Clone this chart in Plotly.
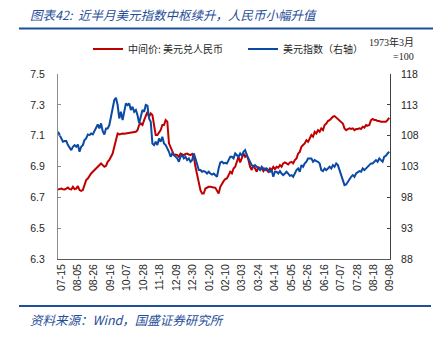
import pandas as pd
import plotly.graph_objects as go

# USD/CNY central parity (left axis)
cny_mid = [
    6.751, 6.753, 6.757, 6.753, 6.751, 6.757, 6.764, 6.753, 6.751, 6.768,
    6.753, 6.757, 6.773, 6.747, 6.742, 6.747, 6.779, 6.812, 6.822, 6.840,
    6.855, 6.866, 6.877, 6.883, 6.898, 6.909, 6.920, 6.909, 6.898, 6.905,
    6.930, 6.942, 6.963, 6.984, 7.028, 7.080, 7.114, 7.108, 7.112, 7.114,
    7.112, 7.114, 7.116, 7.121, 7.119, 7.121, 7.123, 7.125, 7.136, 7.169,
    7.179,
    7.169, 7.201, 7.234, 7.255, 7.223, 7.244, 7.234, 7.169, 7.104, 7.104,
    7.125, 7.136, 7.169, 7.169, 7.201, 7.190, 7.050, 7.020, 6.995, 6.974,
    6.978, 6.974, 6.963, 6.984, 6.978, 6.974, 6.982, 6.984, 6.978, 6.974,
    6.982, 6.963, 6.898, 6.844, 6.779, 6.747, 6.725, 6.725, 6.757, 6.764,
    6.768, 6.768, 6.768, 6.764, 6.762, 6.747, 6.725, 6.768, 6.790, 6.805,
    6.818,
    6.822, 6.844, 6.866, 6.855, 6.887, 6.898, 6.930, 6.963, 6.926, 6.952,
    6.984, 6.963, 6.974, 6.942, 6.898, 6.877, 6.909, 6.887, 6.866, 6.898,
    6.883, 6.887, 6.870, 6.887, 6.877, 6.866, 6.887, 6.877, 6.898, 6.883,
    6.898, 6.892, 6.909, 6.898, 6.920, 6.926, 6.920, 6.913, 6.926, 6.930,
    6.920, 6.942, 6.952, 6.984, 6.995, 7.028, 7.039, 7.050, 7.071, 7.060,
    7.082,
    7.104, 7.093, 7.125, 7.114, 7.136, 7.125, 7.147, 7.136, 7.169, 7.179,
    7.195, 7.201, 7.212, 7.223, 7.227, 7.217, 7.212, 7.201, 7.190, 7.179,
    7.147, 7.136, 7.143, 7.147, 7.143, 7.147, 7.136, 7.143, 7.143, 7.147,
    7.143, 7.158, 7.152, 7.169, 7.165, 7.169, 7.201, 7.208, 7.201, 7.201,
    7.195, 7.195, 7.190, 7.190, 7.186, 7.190, 7.201, 7.216,
]

# US dollar index, March 1973 = 100 (right axis)
usd_index = [
    108.63, 108.09, 107.55, 107.01, 107.12, 107.12, 106.47, 106.04, 105.66, 106.20,
    106.47, 106.20, 106.57, 105.39, 106.20, 106.47, 107.28, 107.55, 108.20, 108.09,
    108.36, 108.20, 108.74, 109.45, 109.82, 109.17, 109.99, 108.74, 108.20, 109.17,
    109.17, 109.72, 111.07, 112.16, 113.78, 114.15, 112.97, 110.80, 111.88, 110.53,
    112.16, 113.23, 112.97, 113.23, 112.16, 112.69, 111.88, 112.16, 111.34, 109.99,
    111.07,
    112.16, 111.88, 112.97, 112.85, 110.80, 110.26, 106.74, 106.47, 107.01, 106.47,
    107.55, 107.01, 107.82, 106.74, 106.47, 105.93, 105.39, 104.58, 105.12, 104.85,
    104.58, 104.31, 103.77, 104.58, 104.85, 104.31, 104.58, 104.04, 104.31, 103.77,
    104.04, 105.12, 104.31, 103.23, 102.42, 102.42, 102.14, 102.25, 102.14, 101.86,
    102.14, 101.86, 101.70, 101.86, 101.60, 101.33, 102.68, 103.66, 103.77, 103.50,
    103.61,
    103.50, 104.04, 104.58, 104.58, 104.31, 105.12, 104.85, 104.58, 105.12, 104.74,
    105.39, 105.66, 104.85, 104.31, 103.50, 103.23, 102.96, 103.23, 102.96, 102.68,
    102.42, 102.96, 102.68, 102.42, 102.68, 102.42, 102.14, 102.42, 101.33, 102.14,
    102.14, 101.86, 102.25, 101.86, 101.60, 101.86, 102.14, 101.86, 101.49, 101.60,
    101.33, 101.86, 102.42, 102.68, 102.14, 103.23, 102.96, 103.50, 103.77, 104.31,
    104.31,
    104.31, 103.77, 104.04, 103.88, 103.77, 103.50, 102.42, 102.25, 102.68, 102.42,
    102.68, 102.96, 102.68, 103.23, 102.96, 103.50, 103.23, 102.42, 101.60, 100.79,
    99.98, 100.08, 100.52, 100.79, 101.33, 101.60, 101.33, 101.86, 102.14, 102.25,
    102.14, 102.68, 102.42, 102.68, 102.96, 103.23, 103.50, 103.50, 103.77, 104.04,
    103.77, 104.31, 104.04, 103.77, 104.58, 104.74, 105.12, 105.39,
]

dates = pd.date_range("2022-07-11", "2023-09-07", periods=len(cny_mid))

# x-axis labels every three weeks
tick_dates = pd.date_range("2022-07-15", "2023-09-08", freq="21D")
tick_labels = [d.strftime("%m-%d") for d in tick_dates]

RED = "#C00000"
BLUE = "#0A4AA6"
TITLE_BLUE = "#1F4E9A"
TICK_FONT = dict(family="Liberation Sans, Arial, sans-serif", size=10.5, color="#262626")
CJK = "Noto Sans CJK SC"

fig = go.Figure()
fig.add_trace(go.Scatter(
    x=dates, y=cny_mid, name="中间价: 美元兑人民币", mode="lines",
    line=dict(color=RED, width=2), yaxis="y",
))
fig.add_trace(go.Scatter(
    x=dates, y=usd_index, name="美元指数（右轴）", mode="lines",
    line=dict(color=BLUE, width=2), yaxis="y2",
))

W, H = 438, 337
L, R, T, B = 58, 48, 74, 78
pw, ph = W - L - R, H - T - B


def px_x(x):
    return (x - L) / pw


def px_y(y):
    return (H - B - y) / ph


fig.update_layout(
    width=W, height=H,
    margin=dict(l=L, r=R, t=T, b=B),
    paper_bgcolor="white", plot_bgcolor="white",
    showlegend=True,
    legend=dict(
        orientation="h", x=px_x(88), y=px_y(49), xanchor="left", yanchor="middle",
        font=dict(family=CJK, size=10, color="#262626"),
        entrywidth=110, entrywidthmode="pixels",
        bgcolor="rgba(0,0,0,0)", borderwidth=0,
        itemwidth=30,
    ),
    xaxis=dict(
        type="date",
        range=["2022-07-11", "2023-09-08"],
        tickmode="array", tickvals=tick_dates, ticktext=tick_labels,
        tickangle=-90, tickfont=TICK_FONT,
        showline=True, linecolor="#595959", linewidth=1,
        ticks="", showgrid=False, zeroline=False,
    ),
    yaxis=dict(
        range=[6.3, 7.5], tick0=6.3, dtick=0.2, tickformat=".1f",
        tickfont=TICK_FONT,
        showline=True, linecolor="#8c8c8c", linewidth=1,
        ticks="inside", ticklen=3, tickcolor="#8c8c8c",
        ticklabelstandoff=10,
        showgrid=False, zeroline=False,
    ),
    yaxis2=dict(
        range=[88, 118], tick0=88, dtick=5,
        overlaying="y", side="right",
        tickfont=TICK_FONT,
        showline=True, linecolor="#404040", linewidth=1,
        ticks="inside", ticklen=3, tickcolor="#404040",
        ticklabelstandoff=8,
        showgrid=False, zeroline=False,
    ),
)

fig.add_annotation(
    xref="paper", yref="paper", x=px_x(28), y=px_y(15),
    xanchor="left", yanchor="middle", showarrow=False,
    text="<i>图表42:  近半月美元指数中枢续升，人民币小幅升值</i>",
    font=dict(family=CJK, size=12.5, color=TITLE_BLUE),
)
fig.add_shape(
    type="line", xref="paper", yref="paper",
    x0=px_x(19), x1=px_x(433), y0=px_y(28.5), y1=px_y(28.5),
    line=dict(color=TITLE_BLUE, width=2),
)
fig.add_annotation(
    xref="paper", yref="paper", x=px_x(416), y=px_y(42),
    xanchor="right", yanchor="middle", showarrow=False,
    text="1973年3月",
    font=dict(family="Liberation Serif, " + CJK, size=10, color="#262626"),
)
fig.add_annotation(
    xref="paper", yref="paper", x=px_x(416), y=px_y(56),
    xanchor="right", yanchor="middle", showarrow=False,
    text="=100",
    font=dict(family="Liberation Serif, serif", size=10, color="#262626"),
)
fig.add_shape(
    type="line", xref="paper", yref="paper",
    x0=px_x(19), x1=px_x(431), y0=px_y(306), y1=px_y(306),
    line=dict(color=TITLE_BLUE, width=2),
)
fig.add_annotation(
    xref="paper", yref="paper", x=px_x(28), y=px_y(319),
    xanchor="left", yanchor="middle", showarrow=False,
    text="<i>资料来源：Wind，国盛证券研究所</i>",
    font=dict(family=CJK, size=12.5, color=TITLE_BLUE),
)

fig.write_html("out.html")
